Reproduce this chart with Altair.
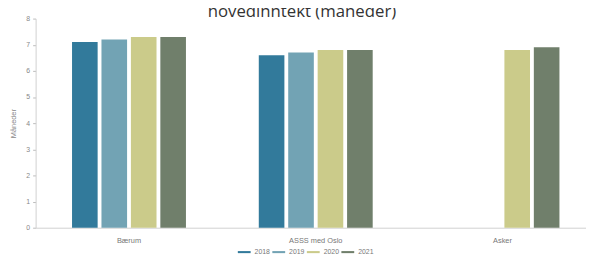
import altair as alt
import pandas as pd

title_text = "hovedinntekt (måneder)"
years = ["2018", "2019", "2020", "2021"]
colors = ["#327a9b", "#72a3b4", "#cbcb8a", "#707f6b"]
categories = ["Bærum", "ASSS med Oslo", "Asker"]
baerum = [7.1, 7.2, 7.3, 7.3]
asss = [6.6, 6.7, 6.8, 6.8]
asker = [None, None, 6.8, 6.9]
y_title = "Måneder"

rows = []
for cat, vals in zip(categories, [baerum, asss, asker]):
    for yr, v in zip(years, vals):
        if v is not None:
            rows.append({"kommune": cat, "aar": yr, "verdi": v})
df = pd.DataFrame(rows)

bars = alt.Chart(df).mark_bar().encode(
    x=alt.X("kommune:N", sort=categories,
            scale=alt.Scale(domain=categories, range=[0, 568], paddingInner=0.39, paddingOuter=0.195),
            axis=alt.Axis(title=None, labelAngle=0, labelFontSize=7.5, labelColor="#777",
                          labelFont="Liberation Sans", ticks=False, labelPadding=9,
                          domainColor="#d0d0d0")),
    xOffset=alt.XOffset("aar:N", scale=alt.Scale(domain=years, paddingInner=0.13, paddingOuter=0)),
    y=alt.Y("verdi:Q", scale=alt.Scale(domain=[0, 8]),
            axis=alt.Axis(title=y_title, values=list(range(0, 9)), grid=False, tickSize=3,
                          tickColor="#bbb", domainColor="#d0d0d0", labelFontSize=7,
                          labelColor="#888", labelFont="Liberation Sans", labelPadding=3,
                          titleFontSize=7.5, titleColor="#888", titleFont="Liberation Sans",
                          titleFontWeight="normal", titleX=-22, titleY=106,
                          titleAlign="center", titleBaseline="middle")),
    color=alt.Color("aar:N", scale=alt.Scale(domain=years, range=colors),
                    legend=alt.Legend(title=None, orient="none", legendX=205, legendY=230,
                                      direction="horizontal",
                                      symbolType="M-1,-0.16L1,-0.16L1,0.16L-1,0.16Z",
                                      symbolSize=169, symbolStrokeWidth=0,
                                      labelFontSize=7, labelColor="#777",
                                      labelFont="Liberation Sans", columnPadding=2,
                                      labelOffset=4)),
)

title = alt.Chart(pd.DataFrame({"t": [title_text]})).mark_text(
    fontSize=17, font="Open Sans", color="#333", align="center", baseline="alphabetic"
).encode(text="t:N", x=alt.value(270), y=alt.value(-2))

chart = alt.layer(bars, title).properties(
    width=550, height=212,
    autosize=alt.AutoSizeParams(type="none"),
    padding={"left": 28, "top": 9, "right": 8, "bottom": 30},
).configure_view(stroke=None)

chart.save("out.html", embed_options={"renderer": "svg", "actions": False})
